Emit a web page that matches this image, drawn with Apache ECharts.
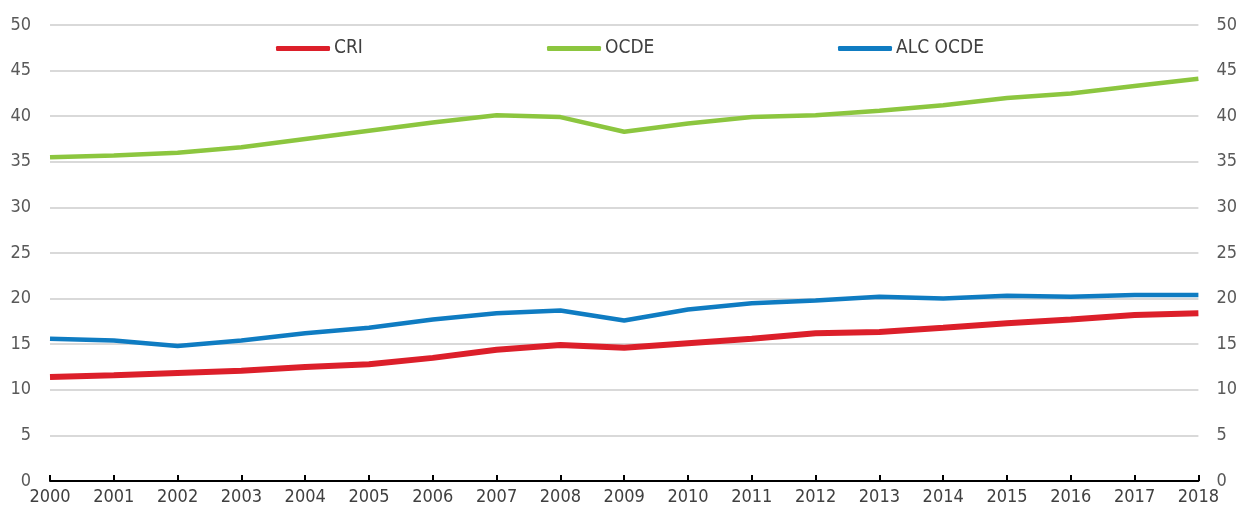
<!DOCTYPE html>
<html>
<head>
<meta charset="utf-8">
<script src="https://cdn.jsdelivr.net/npm/echarts@6/dist/echarts.min.js"></script>
<style>
  html, body { margin: 0; padding: 0; background: #fff; }
  #chart { width: 1240px; height: 507px; }
</style>
</head>
<body>
<div id="chart"></div>
<script>
// años
const years = ['2000', '2001', '2002', '2003', '2004', '2005', '2006', '2007', '2008', '2009',
               '2010', '2011', '2012', '2013', '2014', '2015', '2016', '2017', '2018'];

// series
const cri = [11.4, 11.6, 11.85, 12.1, 12.5, 12.8, 13.5, 14.4, 14.9, 14.6,
             15.1, 15.6, 16.2, 16.35, 16.8, 17.3, 17.7, 18.2, 18.4];
const ocde = [35.5, 35.7, 36.0, 36.6, 37.5, 38.4, 39.3, 40.1, 39.9, 38.3,
              39.2, 39.9, 40.1, 40.6, 41.2, 42.0, 42.5, 43.3, 44.1];
const alcOcde = [15.6, 15.4, 14.8, 15.4, 16.2, 16.8, 17.7, 18.4, 18.7, 17.6,
                 18.8, 19.5, 19.8, 20.2, 20.0, 20.3, 20.2, 20.4, 20.4];

const seriesNames = ['CRI', 'OCDE', 'ALC OCDE'];
const legendLeft = [271, 542, 833]; // posición de cada entrada de la leyenda

const FONT = '"DejaVu Sans Condensed", "Liberation Sans", sans-serif';
const colors = ['#dc1f2a', '#8cc63f', '#0f7cc2'];
const widths = [6, 4.5, 4.5];

const chart = echarts.init(document.getElementById('chart'));

const yAxisBase = {
    type: 'value',
    min: 0,
    max: 50,
    interval: 5,
    axisLine: { show: false },
    axisTick: { show: false }
};

chart.setOption({
    animation: false,
    grid: { left: 50, right: 40, top: 25, bottom: 26 },
    legend: seriesNames.map((name, i) => ({
        top: 34,
        left: legendLeft[i],
        itemWidth: 54,
        itemHeight: 5,
        itemGap: 0,
        icon: 'roundRect',
        textStyle: { color: '#404040', fontSize: 19, fontFamily: FONT, padding: [0, 0, 0, -1] },
        data: [name]
    })),
    xAxis: {
        type: 'category',
        data: years,
        boundaryGap: false,
        axisLine: { lineStyle: { color: '#000', width: 2 } },
        axisTick: { inside: true, length: 6, lineStyle: { color: '#000', width: 2 } },
        axisLabel: { color: '#404040', fontSize: 18, fontFamily: FONT, margin: 7 },
        splitLine: { show: false }
    },
    yAxis: [
        Object.assign({}, yAxisBase, {
            position: 'left',
            splitLine: { lineStyle: { color: '#d9d9d9', width: 2 } },
            axisLabel: { color: '#595959', fontSize: 18, fontFamily: FONT, margin: 19 }
        }),
        Object.assign({}, yAxisBase, {
            position: 'right',
            splitLine: { show: false },
            axisLabel: { color: '#595959', fontSize: 18, fontFamily: FONT, margin: 18 }
        })
    ],
    series: seriesNames.map((name, i) => ({
        name: name,
        type: 'line',
        data: [cri, ocde, alcOcde][i],
        showSymbol: false,
        symbol: 'none',
        z: i === 0 ? 5 : 2,
        lineStyle: { color: colors[i], width: widths[i] },
        itemStyle: { color: colors[i] }
    }))
});
</script>
</body>
</html>
